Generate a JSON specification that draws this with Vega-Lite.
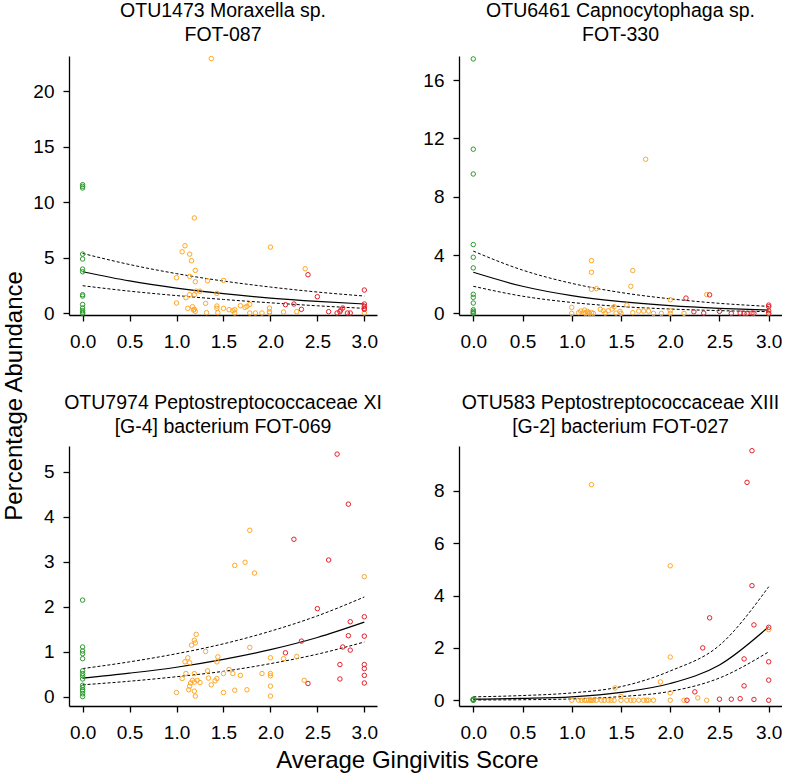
{
"$schema": "https://vega.github.io/schema/vega-lite/v6.json",
"padding": {"left": 2, "top": 0, "right": 0, "bottom": 0},
"background": "white",
"config": {
  "view": {"stroke": null},
  "font": "Liberation Sans",
  "axis": {"grid": false, "domainColor": "black", "tickColor": "black", "labelColor": "black", "labelFont": "Liberation Sans", "labelFontSize": 19, "domainWidth": 1.3, "tickWidth": 1.3, "tickSize": 6, "title": null, "labelOverlap": false},
  "title": {"font": "Liberation Sans", "fontWeight": "normal", "color": "black"}
},
"datasets": {
  "p1": [
    {"x":0,"y":11.6,"g":"green"},{"x":0,"y":11.45,"g":"green"},{"x":0,"y":11.3,"g":"green"},{"x":0,"y":5.34,"g":"green"},{"x":0,"y":4.9,"g":"green"},{"x":0,"y":3.99,"g":"green"},{"x":0,"y":3.75,"g":"green"},{"x":0,"y":1.68,"g":"green"},{"x":0,"y":1.56,"g":"green"},{"x":0,"y":0.8,"g":"green"},{"x":0,"y":0.48,"g":"green"},{"x":0,"y":0.24,"g":"green"},{"x":0,"y":0.1,"g":"green"},{"x":0,"y":0,"g":"green"},
    {"x":1.37,"y":22.97,"g":"orange"},{"x":1.19,"y":8.6,"g":"orange"},{"x":1.09,"y":6.09,"g":"orange"},{"x":1.06,"y":5.55,"g":"orange"},{"x":1.14,"y":5.34,"g":"orange"},{"x":1.16,"y":4.74,"g":"orange"},{"x":1.2,"y":3.87,"g":"orange"},{"x":2.0,"y":5.97,"g":"orange"},{"x":1.0,"y":3.21,"g":"orange"},{"x":1.14,"y":3.33,"g":"orange"},{"x":1.2,"y":2.85,"g":"orange"},{"x":1.33,"y":2.94,"g":"orange"},{"x":1.5,"y":2.97,"g":"orange"},{"x":1.21,"y":2.0,"g":"orange"},{"x":1.25,"y":2.0,"g":"orange"},{"x":1.14,"y":1.68,"g":"orange"},{"x":1.19,"y":1.68,"g":"orange"},{"x":1.1,"y":1.41,"g":"orange"},{"x":1.43,"y":1.8,"g":"orange"},{"x":1.0,"y":0.93,"g":"orange"},{"x":1.31,"y":0.9,"g":"orange"},{"x":1.12,"y":0.45,"g":"orange"},{"x":1.17,"y":0.6,"g":"orange"},{"x":1.19,"y":0.36,"g":"orange"},{"x":1.2,"y":0.18,"g":"orange"},{"x":1.18,"y":0.3,"g":"orange"},{"x":1.32,"y":0.06,"g":"orange"},{"x":1.43,"y":0.45,"g":"orange"},{"x":1.43,"y":0.66,"g":"orange"},{"x":1.44,"y":0.06,"g":"orange"},{"x":1.5,"y":0.45,"g":"orange"},{"x":1.56,"y":0.33,"g":"orange"},{"x":1.6,"y":0.24,"g":"orange"},{"x":1.62,"y":0.33,"g":"orange"},{"x":1.62,"y":0.03,"g":"orange"},{"x":1.68,"y":0.69,"g":"orange"},{"x":1.73,"y":0.54,"g":"orange"},{"x":1.75,"y":0.63,"g":"orange"},{"x":1.78,"y":0.81,"g":"orange"},{"x":1.78,"y":0.03,"g":"orange"},{"x":1.84,"y":0.03,"g":"orange"},{"x":1.91,"y":0.03,"g":"orange"},{"x":1.99,"y":0.48,"g":"orange"},{"x":1.99,"y":0.15,"g":"orange"},{"x":1.99,"y":0.03,"g":"orange"},{"x":2.14,"y":0.12,"g":"orange"},{"x":2.28,"y":0.15,"g":"orange"},{"x":2.37,"y":4.02,"g":"orange"},{"x":3.0,"y":0.03,"g":"orange"},
    {"x":2.4,"y":3.48,"g":"red"},{"x":2.5,"y":1.5,"g":"red"},{"x":2.16,"y":0.78,"g":"red"},{"x":2.25,"y":0.84,"g":"red"},{"x":2.33,"y":0.36,"g":"red"},{"x":2.62,"y":0.15,"g":"red"},{"x":2.71,"y":0.03,"g":"red"},{"x":2.74,"y":0.15,"g":"red"},{"x":2.75,"y":0.3,"g":"red"},{"x":2.77,"y":0.48,"g":"red"},{"x":2.82,"y":0.03,"g":"red"},{"x":2.85,"y":0.03,"g":"red"},{"x":3.0,"y":2.1,"g":"red"},{"x":3.0,"y":0.84,"g":"red"},{"x":3.0,"y":0.63,"g":"red"},{"x":3.0,"y":0.36,"g":"red"},{"x":3.0,"y":0.45,"g":"red"}
  ],
  "l1": [
    {"x":0,"y":3.75,"band":"fit"},{"x":0.5,"y":2.92,"band":"fit"},{"x":1,"y":2.28,"band":"fit"},{"x":1.5,"y":1.77,"band":"fit"},{"x":2,"y":1.38,"band":"fit"},{"x":2.5,"y":1.08,"band":"fit"},{"x":3,"y":0.84,"band":"fit"},
    {"x":0,"y":5.4,"band":"upper"},{"x":0.5,"y":4.4,"band":"upper"},{"x":1,"y":3.58,"band":"upper"},{"x":1.5,"y":2.91,"band":"upper"},{"x":2,"y":2.37,"band":"upper"},{"x":2.5,"y":1.92,"band":"upper"},{"x":3,"y":1.56,"band":"upper"},
    {"x":0,"y":2.49,"band":"lower"},{"x":0.5,"y":2.0,"band":"lower"},{"x":1,"y":1.6,"band":"lower"},{"x":1.5,"y":1.25,"band":"lower"},{"x":2,"y":0.95,"band":"lower"},{"x":2.5,"y":0.68,"band":"lower"},{"x":3,"y":0.45,"band":"lower"}
  ],
  "p2": [
    {"x":0,"y":17.45,"g":"green"},{"x":0,"y":11.26,"g":"green"},{"x":0,"y":9.56,"g":"green"},{"x":0,"y":4.72,"g":"green"},{"x":0,"y":3.85,"g":"green"},{"x":0,"y":3.12,"g":"green"},{"x":0,"y":1.31,"g":"green"},{"x":0,"y":1.1,"g":"green"},{"x":0,"y":0.71,"g":"green"},{"x":0,"y":0.25,"g":"green"},{"x":0,"y":0.14,"g":"green"},{"x":0,"y":0.05,"g":"green"},{"x":0,"y":0,"g":"green"},
    {"x":1.75,"y":10.57,"g":"orange"},{"x":1.2,"y":3.62,"g":"orange"},{"x":1.2,"y":2.82,"g":"orange"},{"x":1.62,"y":2.94,"g":"orange"},{"x":1.6,"y":1.86,"g":"orange"},{"x":1.2,"y":1.65,"g":"orange"},{"x":1.25,"y":1.7,"g":"orange"},{"x":1.56,"y":0.57,"g":"orange"},{"x":2.0,"y":0.94,"g":"orange"},{"x":1.0,"y":0.41,"g":"orange"},{"x":1.0,"y":0,"g":"orange"},{"x":1.07,"y":0.05,"g":"orange"},{"x":1.09,"y":0.16,"g":"orange"},{"x":1.12,"y":0.07,"g":"orange"},{"x":1.13,"y":0.23,"g":"orange"},{"x":1.14,"y":0,"g":"orange"},{"x":1.16,"y":0.14,"g":"orange"},{"x":1.17,"y":0.05,"g":"orange"},{"x":1.18,"y":0,"g":"orange"},{"x":1.2,"y":0.05,"g":"orange"},{"x":1.22,"y":0,"g":"orange"},{"x":1.29,"y":0.28,"g":"orange"},{"x":1.32,"y":0.18,"g":"orange"},{"x":1.34,"y":0.02,"g":"orange"},{"x":1.37,"y":0.18,"g":"orange"},{"x":1.41,"y":0.3,"g":"orange"},{"x":1.43,"y":0.46,"g":"orange"},{"x":1.45,"y":0.02,"g":"orange"},{"x":1.49,"y":0.14,"g":"orange"},{"x":1.5,"y":0,"g":"orange"},{"x":1.62,"y":0.05,"g":"orange"},{"x":1.68,"y":0.16,"g":"orange"},{"x":1.73,"y":0.16,"g":"orange"},{"x":1.78,"y":0.16,"g":"orange"},{"x":1.83,"y":0,"g":"orange"},{"x":1.91,"y":0,"g":"orange"},{"x":2.0,"y":0.18,"g":"orange"},{"x":2.0,"y":0,"g":"orange"},{"x":2.14,"y":0,"g":"orange"},{"x":2.37,"y":1.29,"g":"orange"},{"x":3.0,"y":0.02,"g":"orange"},
    {"x":2.16,"y":1.05,"g":"red"},{"x":2.4,"y":1.27,"g":"red"},{"x":2.24,"y":0.11,"g":"red"},{"x":2.34,"y":0.02,"g":"red"},{"x":2.5,"y":0.14,"g":"red"},{"x":2.62,"y":0,"g":"red"},{"x":2.71,"y":0.02,"g":"red"},{"x":2.75,"y":0,"g":"red"},{"x":2.78,"y":0,"g":"red"},{"x":2.83,"y":0.02,"g":"red"},{"x":2.85,"y":0,"g":"red"},{"x":3.0,"y":0.57,"g":"red"},{"x":3.0,"y":0.46,"g":"red"},{"x":3.0,"y":0.18,"g":"red"},{"x":3.0,"y":0,"g":"red"}
  ],
  "l2": [
    {"x":0,"y":2.82,"band":"fit"},{"x":0.5,"y":1.86,"band":"fit"},{"x":1,"y":1.22,"band":"fit"},{"x":1.5,"y":0.81,"band":"fit"},{"x":2,"y":0.53,"band":"fit"},{"x":2.5,"y":0.35,"band":"fit"},{"x":3,"y":0.23,"band":"fit"},
    {"x":0,"y":4.27,"band":"upper"},{"x":0.5,"y":2.97,"band":"upper"},{"x":1,"y":2.06,"band":"upper"},{"x":1.5,"y":1.43,"band":"upper"},{"x":2,"y":1.0,"band":"upper"},{"x":2.5,"y":0.69,"band":"upper"},{"x":3,"y":0.48,"band":"upper"},
    {"x":0,"y":1.86,"band":"lower"},{"x":0.5,"y":1.18,"band":"lower"},{"x":1,"y":0.75,"band":"lower"},{"x":1.5,"y":0.47,"band":"lower"},{"x":2,"y":0.3,"band":"lower"},{"x":2.5,"y":0.19,"band":"lower"},{"x":3,"y":0.12,"band":"lower"}
  ],
  "p3": [
    {"x":0,"y":2.15,"g":"green"},{"x":0,"y":1.11,"g":"green"},{"x":0,"y":1.02,"g":"green"},{"x":0,"y":0.96,"g":"green"},{"x":0,"y":0.85,"g":"green"},{"x":0,"y":0.58,"g":"green"},{"x":0,"y":0.52,"g":"green"},{"x":0,"y":0.47,"g":"green"},{"x":0,"y":0.4,"g":"green"},{"x":0,"y":0.26,"g":"green"},{"x":0,"y":0.21,"g":"green"},{"x":0,"y":0.16,"g":"green"},{"x":0,"y":0.13,"g":"green"},{"x":0,"y":0.07,"g":"green"},{"x":0,"y":0.01,"g":"green"},
    {"x":1.78,"y":3.7,"g":"orange"},{"x":1.73,"y":2.99,"g":"orange"},{"x":1.62,"y":2.92,"g":"orange"},{"x":1.83,"y":2.75,"g":"orange"},{"x":3.0,"y":2.67,"g":"orange"},{"x":1.21,"y":1.39,"g":"orange"},{"x":1.19,"y":1.26,"g":"orange"},{"x":1.2,"y":1.2,"g":"orange"},{"x":1.16,"y":1.15,"g":"orange"},{"x":1.78,"y":1.1,"g":"orange"},{"x":1.31,"y":1.01,"g":"orange"},{"x":1.44,"y":0.89,"g":"orange"},{"x":1.12,"y":0.87,"g":"orange"},{"x":1.43,"y":0.78,"g":"orange"},{"x":1.09,"y":0.78,"g":"orange"},{"x":1.14,"y":0.76,"g":"orange"},{"x":2.0,"y":0.87,"g":"orange"},{"x":2.14,"y":0.85,"g":"orange"},{"x":2.28,"y":0.9,"g":"orange"},{"x":1.56,"y":0.61,"g":"orange"},{"x":1.33,"y":0.58,"g":"orange"},{"x":1.1,"y":0.52,"g":"orange"},{"x":1.19,"y":0.52,"g":"orange"},{"x":1.5,"y":0.52,"g":"orange"},{"x":1.6,"y":0.52,"g":"orange"},{"x":1.68,"y":0.48,"g":"orange"},{"x":1.91,"y":0.52,"g":"orange"},{"x":2.0,"y":0.52,"g":"orange"},{"x":2.0,"y":0.47,"g":"orange"},{"x":1.06,"y":0.41,"g":"orange"},{"x":1.34,"y":0.42,"g":"orange"},{"x":1.43,"y":0.41,"g":"orange"},{"x":1.41,"y":0.36,"g":"orange"},{"x":1.17,"y":0.37,"g":"orange"},{"x":1.19,"y":0.33,"g":"orange"},{"x":1.22,"y":0.37,"g":"orange"},{"x":1.25,"y":0.32,"g":"orange"},{"x":1.15,"y":0.31,"g":"orange"},{"x":1.37,"y":0.27,"g":"orange"},{"x":1.14,"y":0.24,"g":"orange"},{"x":2.0,"y":0.24,"g":"orange"},{"x":2.36,"y":0.37,"g":"orange"},{"x":1.13,"y":0.16,"g":"orange"},{"x":1.19,"y":0.13,"g":"orange"},{"x":1.0,"y":0.1,"g":"orange"},{"x":1.5,"y":0.1,"g":"orange"},{"x":1.62,"y":0.15,"g":"orange"},{"x":1.75,"y":0.16,"g":"orange"},{"x":1.2,"y":0.02,"g":"orange"},{"x":2.0,"y":0.02,"g":"orange"},
    {"x":2.71,"y":5.39,"g":"red"},{"x":2.83,"y":4.28,"g":"red"},{"x":2.25,"y":3.5,"g":"red"},{"x":2.62,"y":3.04,"g":"red"},{"x":2.5,"y":1.96,"g":"red"},{"x":3.0,"y":1.78,"g":"red"},{"x":2.85,"y":1.67,"g":"red"},{"x":2.83,"y":1.36,"g":"red"},{"x":3.0,"y":1.35,"g":"red"},{"x":2.33,"y":1.24,"g":"red"},{"x":2.77,"y":1.11,"g":"red"},{"x":2.85,"y":1.04,"g":"red"},{"x":2.16,"y":0.98,"g":"red"},{"x":2.74,"y":0.72,"g":"red"},{"x":3.0,"y":0.72,"g":"red"},{"x":3.0,"y":0.63,"g":"red"},{"x":3.0,"y":0.48,"g":"red"},{"x":2.74,"y":0.4,"g":"red"},{"x":3.0,"y":0.31,"g":"red"},{"x":2.4,"y":0.3,"g":"red"}
  ],
  "l3": [
    {"x":0,"y":0.42,"band":"fit"},{"x":0.5,"y":0.53,"band":"fit"},{"x":1,"y":0.66,"band":"fit"},{"x":1.5,"y":0.835,"band":"fit"},{"x":2,"y":1.05,"band":"fit"},{"x":2.5,"y":1.32,"band":"fit"},{"x":3,"y":1.66,"band":"fit"},
    {"x":0,"y":0.63,"band":"upper"},{"x":0.5,"y":0.78,"band":"upper"},{"x":1,"y":0.96,"band":"upper"},{"x":1.5,"y":1.18,"band":"upper"},{"x":2,"y":1.46,"band":"upper"},{"x":2.5,"y":1.8,"band":"upper"},{"x":3,"y":2.22,"band":"upper"},
    {"x":0,"y":0.27,"band":"lower"},{"x":0.5,"y":0.35,"band":"lower"},{"x":1,"y":0.45,"band":"lower"},{"x":1.5,"y":0.57,"band":"lower"},{"x":2,"y":0.74,"band":"lower"},{"x":2.5,"y":0.95,"band":"lower"},{"x":3,"y":1.22,"band":"lower"}
  ],
  "p4": [
    {"x":0,"y":0.03,"g":"green"},{"x":0,"y":0.02,"g":"green"},{"x":0,"y":0.01,"g":"green"},{"x":0,"y":0,"g":"green"},{"x":0,"y":0.04,"g":"green"},
    {"x":1.2,"y":8.24,"g":"orange"},{"x":2.0,"y":5.14,"g":"orange"},{"x":2.0,"y":1.65,"g":"orange"},{"x":1.9,"y":0.7,"g":"orange"},{"x":1.44,"y":0.47,"g":"orange"},{"x":1.5,"y":0.15,"g":"orange"},{"x":2.0,"y":0.28,"g":"orange"},{"x":2.28,"y":0.09,"g":"orange"},{"x":3.0,"y":2.7,"g":"orange"},
    {"x":1.0,"y":0,"g":"orange"},{"x":1.07,"y":0,"g":"orange"},{"x":1.1,"y":0,"g":"orange"},{"x":1.13,"y":0,"g":"orange"},{"x":1.15,"y":0,"g":"orange"},{"x":1.17,"y":0,"g":"orange"},{"x":1.19,"y":0,"g":"orange"},{"x":1.2,"y":0,"g":"orange"},{"x":1.22,"y":0,"g":"orange"},{"x":1.25,"y":0,"g":"orange"},{"x":1.3,"y":0,"g":"orange"},{"x":1.33,"y":0,"g":"orange"},{"x":1.37,"y":0,"g":"orange"},{"x":1.4,"y":0,"g":"orange"},{"x":1.43,"y":0,"g":"orange"},{"x":1.5,"y":0,"g":"orange"},{"x":1.56,"y":0,"g":"orange"},{"x":1.6,"y":0,"g":"orange"},{"x":1.63,"y":0,"g":"orange"},{"x":1.68,"y":0,"g":"orange"},{"x":1.73,"y":0,"g":"orange"},{"x":1.76,"y":0,"g":"orange"},{"x":1.78,"y":0,"g":"orange"},{"x":1.83,"y":0,"g":"orange"},{"x":2.0,"y":0,"g":"orange"},{"x":2.14,"y":0,"g":"orange"},{"x":2.37,"y":0,"g":"orange"},
    {"x":2.83,"y":9.54,"g":"red"},{"x":2.78,"y":8.33,"g":"red"},{"x":2.83,"y":4.38,"g":"red"},{"x":2.4,"y":3.15,"g":"red"},{"x":2.33,"y":2.0,"g":"red"},{"x":2.85,"y":2.88,"g":"red"},{"x":3.0,"y":2.79,"g":"red"},{"x":2.75,"y":1.58,"g":"red"},{"x":3.0,"y":1.47,"g":"red"},{"x":3.0,"y":0.77,"g":"red"},{"x":2.75,"y":0.55,"g":"red"},{"x":2.25,"y":0.32,"g":"red"},{"x":2.17,"y":0,"g":"red"},{"x":2.5,"y":0.04,"g":"red"},{"x":2.62,"y":0.04,"g":"red"},{"x":2.71,"y":0.06,"g":"red"},{"x":2.85,"y":0.03,"g":"red"},{"x":3.0,"y":0,"g":"red"}
  ],
  "l4": [
    {"x":0,"y":0.04,"band":"fit"},{"x":0.5,"y":0.07,"band":"fit"},{"x":1,"y":0.13,"band":"fit"},{"x":1.5,"y":0.3,"band":"fit"},{"x":2,"y":0.64,"band":"fit"},{"x":2.5,"y":1.35,"band":"fit"},{"x":3,"y":2.81,"band":"fit"},
    {"x":0,"y":0.13,"band":"upper"},{"x":0.5,"y":0.18,"band":"upper"},{"x":1,"y":0.28,"band":"upper"},{"x":1.5,"y":0.52,"band":"upper"},{"x":2,"y":1.12,"band":"upper"},{"x":2.5,"y":2.1,"band":"upper"},{"x":3,"y":4.34,"band":"upper"},
    {"x":0,"y":0.01,"band":"lower"},{"x":0.5,"y":0.02,"band":"lower"},{"x":1,"y":0.05,"band":"lower"},{"x":1.5,"y":0.14,"band":"lower"},{"x":2,"y":0.34,"band":"lower"},{"x":2.5,"y":0.85,"band":"lower"},{"x":3,"y":1.85,"band":"lower"}
  ]
},
"title": {"text": "Percentage Abundance", "orient": "left", "anchor": "middle", "fontSize": 24, "offset": 6, "dx": -9},
"vconcat": [
  {
    "title": {"text": "Average Gingivitis Score", "orient": "bottom", "anchor": "middle", "fontSize": 24, "offset": 7},
    "columns": 2,
    "bounds": "flush",
    "spacing": {"row": 131, "column": 82},
    "resolve": {"scale": {"x": "independent", "y": "independent"}},
    "concat": [
      {
        "width": 308, "height": 259,
        "title": {"text": ["OTU1473 Moraxella sp.", "FOT-087"], "fontSize": 19.5, "lineHeight": 24, "anchor": "middle", "frame": "group", "baseline": "bottom", "offset": -10},
        "layer": [
          {"data": {"name": "l1"}, "transform": [{"filter": "datum.band == 'fit'"}], "mark": {"type": "line", "color": "black", "strokeWidth": 1.2, "interpolate": "monotone"},
           "encoding": {"x": {"field": "x", "type": "quantitative", "scale": {"domain": [-0.145, 3.135], "nice": false, "zero": false}, "axis": {"values": [0,0.5,1,1.5,2,2.5,3], "format": ".1f", "labelPadding": 11}}, "y": {"field": "y", "type": "quantitative", "scale": {"domain": [-0.15, 23.2], "nice": false, "zero": false}, "axis": {"values": [0,5,10,15,20], "labelPadding": 9}}}},
          {"data": {"name": "l1"}, "transform": [{"filter": "datum.band != 'fit'"}], "mark": {"type": "line", "color": "black", "strokeWidth": 1, "strokeDash": [3,2], "interpolate": "monotone"},
           "encoding": {"x": {"field": "x", "type": "quantitative"}, "y": {"field": "y", "type": "quantitative"}, "detail": {"field": "band"}}},
          {"data": {"name": "p1"}, "mark": {"type": "point", "filled": false, "size": 20, "strokeWidth": 1, "opacity": 1},
           "encoding": {"x": {"field": "x", "type": "quantitative"}, "y": {"field": "y", "type": "quantitative"}, "color": {"field": "g", "type": "nominal", "scale": {"domain": ["green","orange","red"], "range": ["#2E9A2E","#FFA726","#E8202A"]}, "legend": null}}}
        ]
      },
      {
        "width": 323, "height": 259,
        "title": {"text": ["OTU6461 Capnocytophaga sp.", "FOT-330"], "fontSize": 19.5, "lineHeight": 24, "anchor": "middle", "frame": "group", "baseline": "bottom", "offset": -10},
        "layer": [
          {"data": {"name": "l2"}, "transform": [{"filter": "datum.band == 'fit'"}], "mark": {"type": "line", "color": "black", "strokeWidth": 1.2, "interpolate": "monotone"},
           "encoding": {"x": {"field": "x", "type": "quantitative", "scale": {"domain": [-0.145, 3.135], "nice": false, "zero": false}, "axis": {"values": [0,0.5,1,1.5,2,2.5,3], "format": ".1f", "labelPadding": 11}}, "y": {"field": "y", "type": "quantitative", "scale": {"domain": [-0.11, 17.65], "nice": false, "zero": false}, "axis": {"values": [0,2,4,6,8,10,12,14,16], "labelPadding": 9}}}},
          {"data": {"name": "l2"}, "transform": [{"filter": "datum.band != 'fit'"}], "mark": {"type": "line", "color": "black", "strokeWidth": 1, "strokeDash": [3,2], "interpolate": "monotone"},
           "encoding": {"x": {"field": "x", "type": "quantitative"}, "y": {"field": "y", "type": "quantitative"}, "detail": {"field": "band"}}},
          {"data": {"name": "p2"}, "mark": {"type": "point", "filled": false, "size": 20, "strokeWidth": 1, "opacity": 1},
           "encoding": {"x": {"field": "x", "type": "quantitative"}, "y": {"field": "y", "type": "quantitative"}, "color": {"field": "g", "type": "nominal", "scale": {"domain": ["green","orange","red"], "range": ["#2E9A2E","#FFA726","#E8202A"]}, "legend": null}}}
        ]
      },
      {
        "width": 308, "height": 260,
        "title": {"text": ["OTU7974 Peptostreptococcaceae XI", "[G-4] bacterium FOT-069"], "fontSize": 19.5, "lineHeight": 24, "anchor": "middle", "frame": "group", "baseline": "bottom", "offset": -10},
        "layer": [
          {"data": {"name": "l3"}, "transform": [{"filter": "datum.band == 'fit'"}], "mark": {"type": "line", "color": "black", "strokeWidth": 1.2, "interpolate": "monotone"},
           "encoding": {"x": {"field": "x", "type": "quantitative", "scale": {"domain": [-0.145, 3.135], "nice": false, "zero": false}, "axis": {"values": [0,0.5,1,1.5,2,2.5,3], "format": ".1f", "labelPadding": 11}}, "y": {"field": "y", "type": "quantitative", "scale": {"domain": [-0.2, 5.57], "nice": false, "zero": false}, "axis": {"values": [0,1,2,3,4,5], "labelPadding": 9}}}},
          {"data": {"name": "l3"}, "transform": [{"filter": "datum.band != 'fit'"}], "mark": {"type": "line", "color": "black", "strokeWidth": 1, "strokeDash": [3,2], "interpolate": "monotone"},
           "encoding": {"x": {"field": "x", "type": "quantitative"}, "y": {"field": "y", "type": "quantitative"}, "detail": {"field": "band"}}},
          {"data": {"name": "p3"}, "mark": {"type": "point", "filled": false, "size": 20, "strokeWidth": 1, "opacity": 1},
           "encoding": {"x": {"field": "x", "type": "quantitative"}, "y": {"field": "y", "type": "quantitative"}, "color": {"field": "g", "type": "nominal", "scale": {"domain": ["green","orange","red"], "range": ["#2E9A2E","#FFA726","#E8202A"]}, "legend": null}}}
        ]
      },
      {
        "width": 323, "height": 260,
        "title": {"text": ["OTU583 Peptostreptococcaceae XIII", "[G-2] bacterium FOT-027"], "fontSize": 19.5, "lineHeight": 24, "anchor": "middle", "frame": "group", "baseline": "bottom", "offset": -10},
        "layer": [
          {"data": {"name": "l4"}, "transform": [{"filter": "datum.band == 'fit'"}], "mark": {"type": "line", "color": "black", "strokeWidth": 1.2, "interpolate": "monotone"},
           "encoding": {"x": {"field": "x", "type": "quantitative", "scale": {"domain": [-0.145, 3.135], "nice": false, "zero": false}, "axis": {"values": [0,0.5,1,1.5,2,2.5,3], "format": ".1f", "labelPadding": 11}}, "y": {"field": "y", "type": "quantitative", "scale": {"domain": [-0.22, 9.72], "nice": false, "zero": false}, "axis": {"values": [0,2,4,6,8], "labelPadding": 9}}}},
          {"data": {"name": "l4"}, "transform": [{"filter": "datum.band != 'fit'"}], "mark": {"type": "line", "color": "black", "strokeWidth": 1, "strokeDash": [3,2], "interpolate": "monotone"},
           "encoding": {"x": {"field": "x", "type": "quantitative"}, "y": {"field": "y", "type": "quantitative"}, "detail": {"field": "band"}}},
          {"data": {"name": "p4"}, "mark": {"type": "point", "filled": false, "size": 20, "strokeWidth": 1, "opacity": 1},
           "encoding": {"x": {"field": "x", "type": "quantitative"}, "y": {"field": "y", "type": "quantitative"}, "color": {"field": "g", "type": "nominal", "scale": {"domain": ["green","orange","red"], "range": ["#2E9A2E","#FFA726","#E8202A"]}, "legend": null}}}
        ]
      }
    ]
  }
]
}
